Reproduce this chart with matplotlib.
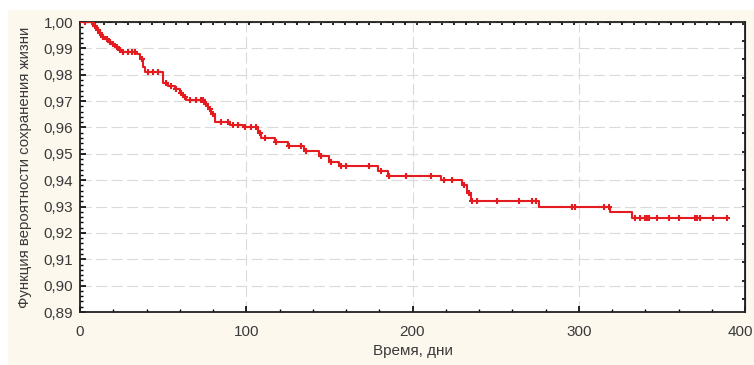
import numpy as np
import matplotlib
matplotlib.use("Agg")
import matplotlib.pyplot as plt
from matplotlib.patches import Rectangle
from matplotlib.ticker import FuncFormatter, MultipleLocator
from matplotlib.transforms import ScaledTranslation

plt.rcParams['font.family'] = ['Liberation Sans', 'DejaVu Sans']

# Kaplan-Meier steps: day of event and survival after it
event_days = [8, 10, 12, 13, 15, 17, 19, 21, 23, 25,
              34, 36, 38, 39, 50, 53, 57, 60, 62, 64,
              75, 77, 79, 81, 90, 98, 107, 109, 117, 125,
              135, 144, 150, 156, 179, 185, 217, 230, 233, 235,
              276, 319, 332]
survival = [0.9985, 0.997, 0.996, 0.9945, 0.9935, 0.9925, 0.9915, 0.9905, 0.9895, 0.9886,
            0.9878, 0.986, 0.983, 0.981, 0.977, 0.9757, 0.9745, 0.973, 0.9715, 0.9705,
            0.969, 0.967, 0.965, 0.962, 0.961, 0.960, 0.958, 0.956, 0.9545, 0.953,
            0.951, 0.949, 0.947, 0.9455, 0.9435, 0.9416, 0.940, 0.938, 0.935, 0.932,
            0.930, 0.928, 0.9256]
last_day = 390

# censored observations (days)
censored_days = [3, 7, 9, 11, 12, 14, 16, 18, 20, 22, 24, 26, 29, 31, 33, 37,
                 41, 44, 47, 52, 55, 58, 61, 63, 66, 70, 73, 74, 76, 78, 80,
                 85, 89, 92, 95, 99, 103, 106, 108, 111, 118, 126, 133, 136,
                 145, 151, 157, 160, 174, 181, 186, 196, 211, 219, 224, 231,
                 234, 236, 239, 251, 264, 272, 274, 296, 298, 315, 318, 334,
                 337, 340, 341, 342, 347, 354, 360, 370, 371, 373, 381, 389]

x_ticks = [0, 100, 200, 300, 400]
y_ticks = [0.89, 0.90, 0.91, 0.92, 0.93, 0.94, 0.95, 0.96, 0.97, 0.98, 0.99, 1.00]

red = '#e41b1f'
txt = '#3a3a3a'

fig = plt.figure(figsize=(7.54, 3.65), dpi=100, facecolor='white')
fig.patches.append(Rectangle((8 / 754, 0), 1, 1 - 10 / 365,
                             transform=fig.transFigure, facecolor='#fcf8ee',
                             edgecolor='none', zorder=-10))
ax = fig.add_axes([80 / 754, 1 - 312 / 365, 665 / 754, 290 / 365])
ax.set_facecolor('white')

days = np.r_[0, event_days, last_day]
surv = np.r_[1.0, survival, survival[-1]]
ax.step(days, surv, where='post', color=red, lw=1.5, zorder=3)

idx = np.searchsorted(event_days, censored_days, side='right') - 1
cens_surv = np.where(idx >= 0, np.array(survival)[np.clip(idx, 0, None)], 1.0)
ax.plot(censored_days, cens_surv, ls='none', marker='+', ms=5, mew=1.5,
        color=red, zorder=4)

ax.set_xlim(0, 400)
ax.set_ylim(0.89, 1.00)
ax.set_xticks(x_ticks)
ax.set_yticks(y_ticks)
ax.xaxis.set_minor_locator(MultipleLocator(20))
ax.yaxis.set_minor_locator(MultipleLocator(0.002))
ax.yaxis.set_major_formatter(FuncFormatter(lambda v, p: ('%.2f' % v).replace('.', ',')))

ax.tick_params(which='major', direction='in', length=4, width=1.2,
               labelsize=11, colors='black', labelcolor=txt)
ax.tick_params(axis='x', which='major', pad=9)
ax.tick_params(axis='y', which='major', pad=5)
ax.tick_params(which='minor', direction='in', length=2.5, width=1)
ax.grid(True, which='major', color='#dadada', lw=0.8, ls=(0, (10, 4)), zorder=0)

# last x label sits at the right edge, nudge it inward a little
last = ax.get_xticklabels()[-1]
last.set_transform(last.get_transform() + ScaledTranslation(-3 / 72, 0, fig.dpi_scale_trans))

for s in ax.spines.values():
    s.set_linewidth(1.3)
    s.set_color('#222222')

top = ax.secondary_xaxis('top')
top.set_xticks(np.arange(0, 400, 7.25))
top.tick_params(direction='in', length=2.5, width=1.2, labeltop=False)
right = ax.secondary_yaxis('right')
right.set_yticks(np.arange(0.9928, 0.89, -0.007))
right.tick_params(direction='in', length=2.5, width=1.2, labelright=False)

ax.set_xlabel('Время, дни', fontsize=11, color=txt, labelpad=4)
ax.set_ylabel('Функция вероятности сохранения жизни', fontsize=10.8,
              color=txt, labelpad=8)

fig.savefig('out.png', dpi=100, facecolor=fig.get_facecolor())
